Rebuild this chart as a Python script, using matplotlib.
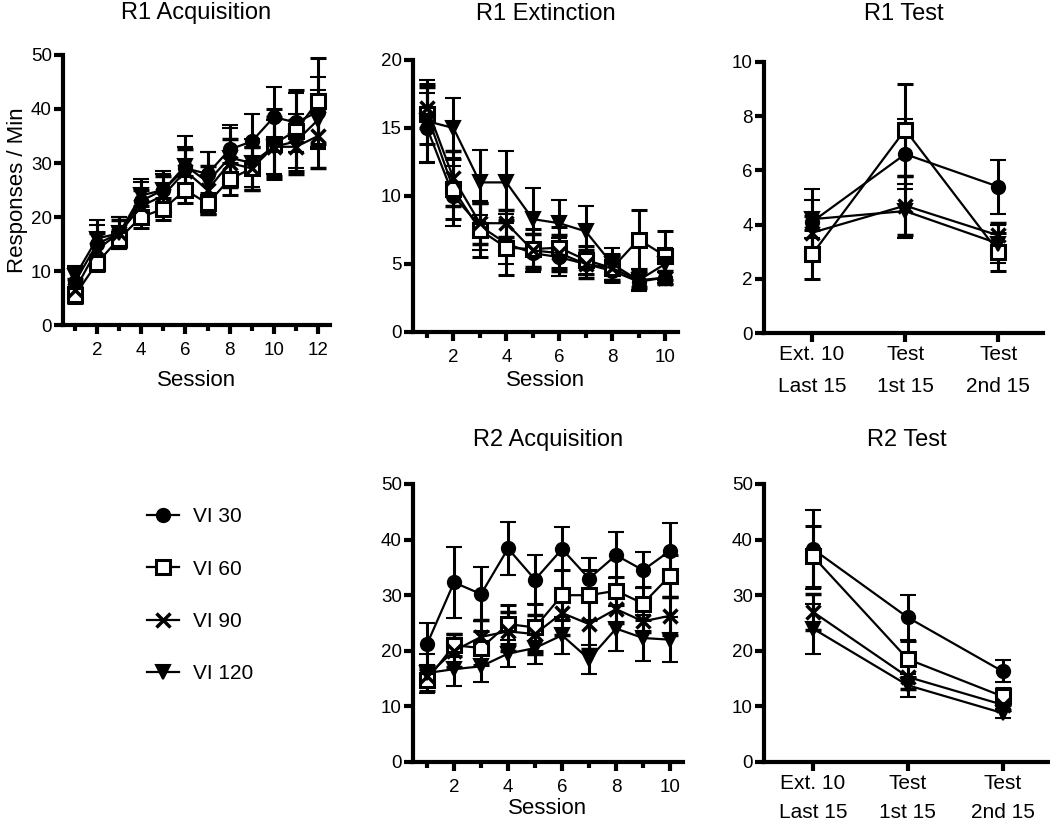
import matplotlib
matplotlib.use("Agg")
import matplotlib.pyplot as plt
import numpy as np
from matplotlib.ticker import MultipleLocator, FixedLocator

plt.rcParams['font.family'] = ['Liberation Sans', 'DejaVu Sans']

groups = ["VI 30", "VI 60", "VI 90", "VI 120"]

# R1 Acquisition (sessions 1-12)
acq1_sessions = list(range(1, 13))
acq1_mean = {
    "VI 30":  [8, 15, 17, 23, 25, 29, 28, 32.5, 34, 38.5, 37.5, 39.5],
    "VI 60":  [5.5, 11.5, 16, 20, 21.5, 25, 22.5, 27, 29, 33.5, 36, 41.5],
    "VI 90":  [6.5, 14, 17, 22, 24, 28.5, 25, 30, 29, 33, 33, 35],
    "VI 120": [9, 16, 17, 24, 25, 29.5, 26.5, 31, 30, 33, 34, 38],
}
acq1_sem = {
    "VI 30":  [2.5, 3.5, 3.0, 3.5, 3.0, 4.0, 4.0, 4.5, 5.0, 5.5, 5.5, 6.5],
    "VI 60":  [1.5, 1.5, 1.5, 2.0, 2.0, 2.5, 2.0, 3.0, 4.0, 6.5, 7.5, 8.0],
    "VI 90":  [2.0, 3.0, 2.5, 3.0, 3.5, 4.0, 4.5, 4.5, 4.0, 5.5, 5.0, 6.0],
    "VI 120": [2.0, 3.5, 3.0, 3.0, 3.5, 5.5, 5.5, 5.5, 4.5, 5.0, 5.0, 5.5],
}

# R1 Extinction (sessions 1-10)
ext_sessions = list(range(1, 11))
ext_mean = {
    "VI 30":  [15, 10, 7.8, 6.5, 5.8, 5.5, 5.0, 4.5, 3.7, 4.0],
    "VI 60":  [16, 10.5, 7.5, 6.2, 6.1, 6.2, 5.3, 4.7, 6.8, 5.6],
    "VI 90":  [16.5, 11.3, 8.0, 8.0, 6.0, 5.8, 5.0, 4.7, 3.8, 4.0],
    "VI 120": [15.5, 15, 11, 11, 8.3, 8.0, 7.4, 5.0, 3.8, 5.0],
}
ext_sem = {
    "VI 30":  [2.6, 2.2, 1.8, 1.5, 1.4, 1.4, 0.8, 0.8, 0.6, 0.4],
    "VI 60":  [2.2, 2.2, 2.0, 2.0, 1.5, 1.5, 1.0, 1.0, 2.2, 1.8],
    "VI 90":  [1.5, 2.0, 1.5, 1.0, 1.2, 1.3, 1.0, 0.9, 0.6, 0.5],
    "VI 120": [3.0, 2.2, 2.4, 2.3, 2.3, 1.7, 1.9, 1.2, 0.8, 1.2],
}

# R1 Test
test_labels = ["Ext. 10\nLast 15", "Test\n1st 15", "Test\n2nd 15"]
r1test_mean = {
    "VI 30":  [4.1, 6.6, 5.4],
    "VI 60":  [2.9, 7.5, 3.0],
    "VI 90":  [3.7, 4.7, 3.6],
    "VI 120": [4.2, 4.5, 3.3],
}
r1test_sem = {
    "VI 30":  [1.2, 1.3, 1.0],
    "VI 60":  [0.9, 1.7, 0.7],
    "VI 90":  [0.6, 1.1, 0.45],
    "VI 120": [0.7, 1.0, 0.7],
}

# R2 Acquisition (sessions 1-10)
acq2_sessions = list(range(1, 11))
acq2_mean = {
    "VI 30":  [21.2, 32.3, 30.2, 38.4, 32.8, 38.3, 33.0, 37.2, 34.5, 38.0],
    "VI 60":  [14.8, 21.0, 20.5, 24.8, 24.2, 30.0, 30.0, 30.8, 28.5, 33.5],
    "VI 90":  [15.5, 20.0, 22.5, 23.5, 23.0, 26.8, 24.8, 27.5, 25.3, 26.3],
    "VI 120": [16.0, 16.7, 17.2, 19.5, 20.5, 22.8, 18.5, 24.0, 22.3, 22.0],
}
acq2_sem = {
    "VI 30":  [3.8, 6.4, 4.8, 4.8, 4.4, 3.9, 3.7, 4.1, 3.2, 4.9],
    "VI 60":  [2.0, 2.0, 3.0, 3.5, 4.3, 4.5, 4.5, 2.5, 3.0, 3.8],
    "VI 90":  [1.8, 3.0, 3.0, 3.5, 3.5, 4.0, 4.5, 2.5, 2.0, 3.4],
    "VI 120": [3.5, 3.1, 2.8, 2.5, 2.9, 3.3, 2.6, 4.0, 4.1, 4.0],
}

# R2 Test
r2test_mean = {
    "VI 30":  [38.3, 26.0, 16.3],
    "VI 60":  [37.0, 18.5, 11.8],
    "VI 90":  [27.0, 15.3, 10.3],
    "VI 120": [24.0, 13.8, 8.8],
}
r2test_sem = {
    "VI 30":  [7.1, 4.0, 2.0],
    "VI 60":  [5.5, 3.3, 1.5],
    "VI 90":  [3.3, 2.2, 1.0],
    "VI 120": [4.5, 2.1, 0.8],
}

styles = {
    "VI 30":  dict(marker='o', ms=9.5, mfc='black', mec='black', mew=1.5),
    "VI 60":  dict(marker='s', ms=10, mfc='white', mec='black', mew=2.2),
    "VI 90":  dict(marker='x', ms=10, mfc='black', mec='black', mew=2.5),
    "VI 120": dict(marker='v', ms=9.5, mfc='black', mec='black', mew=1.5),
}

W, H = 1050, 826
fig = plt.figure(figsize=(W / 100, H / 100), dpi=100)


def make_ax(left, top, right, bottom):
    return fig.add_axes([left / W, 1 - bottom / H, (right - left) / W, (bottom - top) / H])


def style_ax(ax):
    for s in ['top', 'right']:
        ax.spines[s].set_visible(False)
    for s in ['left', 'bottom']:
        ax.spines[s].set_linewidth(3)
    ax.tick_params(axis='both', which='major', width=3, length=6.5, labelsize=13.5, pad=1.5)
    ax.tick_params(axis='x', which='major', pad=5.5)
    ax.tick_params(axis='both', which='minor', width=3, length=4.5)
    ax.set_facecolor('none')


def draw(ax, x, means, sems):
    lines = []
    for g in groups:
        eb = ax.errorbar(x, means[g], yerr=sems[g], color='black', lw=1.6,
                         elinewidth=2.2, capsize=6, capthick=2.2,
                         clip_on=False, zorder=3, **styles[g])
        lines.append(eb.lines[0])
    return lines


def title(ax, text, baseline_pix):
    pos = ax.get_position()
    fig.text((pos.x0 + pos.x1) / 2, 1 - baseline_pix / H, text, fontsize=17,
             ha='center', va='baseline')


# Panel 1: R1 Acquisition
ax1 = make_ax(63, 55, 330, 325)
handles = draw(ax1, acq1_sessions, acq1_mean, acq1_sem)
ax1.set_xlim(0.46, 12.54)
ax1.set_ylim(0, 50)
ax1.yaxis.set_major_locator(MultipleLocator(10))
ax1.xaxis.set_major_locator(FixedLocator([2, 4, 6, 8, 10, 12]))
ax1.xaxis.set_minor_locator(FixedLocator([1, 3, 5, 7, 9, 11]))
style_ax(ax1)
title(ax1, "R1 Acquisition", 19)
ax1.set_xlabel("Session", fontsize=16, labelpad=8)
ax1.set_ylabel("Responses / Min", fontsize=16, labelpad=2)

# Panel 2: R1 Extinction
ax2 = make_ax(413, 60, 678, 332)
draw(ax2, ext_sessions, ext_mean, ext_sem)
ax2.set_xlim(0.47, 10.49)
ax2.set_ylim(0, 20)
ax2.yaxis.set_major_locator(MultipleLocator(5))
ax2.xaxis.set_major_locator(FixedLocator([2, 4, 6, 8, 10]))
ax2.xaxis.set_minor_locator(FixedLocator([1, 3, 5, 7, 9]))
style_ax(ax2)
title(ax2, "R1 Extinction", 20)
ax2.set_xlabel("Session", fontsize=16, labelpad=3)

# Panel 3: R1 Test
ax3 = make_ax(764, 62, 1043, 333)
draw(ax3, [1, 2, 3], r1test_mean, r1test_sem)
ax3.set_xlim(0.484, 3.48)
ax3.set_ylim(0, 10)
ax3.yaxis.set_major_locator(MultipleLocator(2))
ax3.set_xticks([1, 2, 3])
ax3.set_xticklabels(test_labels, linespacing=1.85)
style_ax(ax3)
ax3.tick_params(axis='x', labelsize=15, pad=2)
title(ax3, "R1 Test", 20)

# Panel 4: R2 Acquisition
ax4 = make_ax(413, 484, 683, 762)
draw(ax4, acq2_sessions, acq2_mean, acq2_sem)
ax4.set_xlim(0.48, 10.48)
ax4.set_ylim(0, 50)
ax4.yaxis.set_major_locator(MultipleLocator(10))
ax4.xaxis.set_major_locator(FixedLocator([2, 4, 6, 8, 10]))
ax4.xaxis.set_minor_locator(FixedLocator([1, 3, 5, 7, 9]))
style_ax(ax4)
title(ax4, "R2 Acquisition", 446)
ax4.set_xlabel("Session", fontsize=16, labelpad=2)

# Panel 5: R2 Test
ax5 = make_ax(764, 484, 1050, 762)
draw(ax5, [1, 2, 3], r2test_mean, r2test_sem)
ax5.set_xlim(0.484, 3.5)
ax5.set_ylim(0, 50)
ax5.yaxis.set_major_locator(MultipleLocator(10))
ax5.set_xticks([1, 2, 3])
ax5.set_xticklabels(test_labels, linespacing=1.7)
style_ax(ax5)
ax5.tick_params(axis='x', labelsize=15, pad=2)
title(ax5, "R2 Test", 446)

# Legend
fig.legend(handles, groups, loc='upper left', bbox_to_anchor=(139 / W, 1 - 499 / H),
           frameon=False, fontsize=15, handlelength=1.5, handletextpad=0.7,
           labelspacing=1.6, borderaxespad=0)

fig.savefig("out.png", dpi=100)
